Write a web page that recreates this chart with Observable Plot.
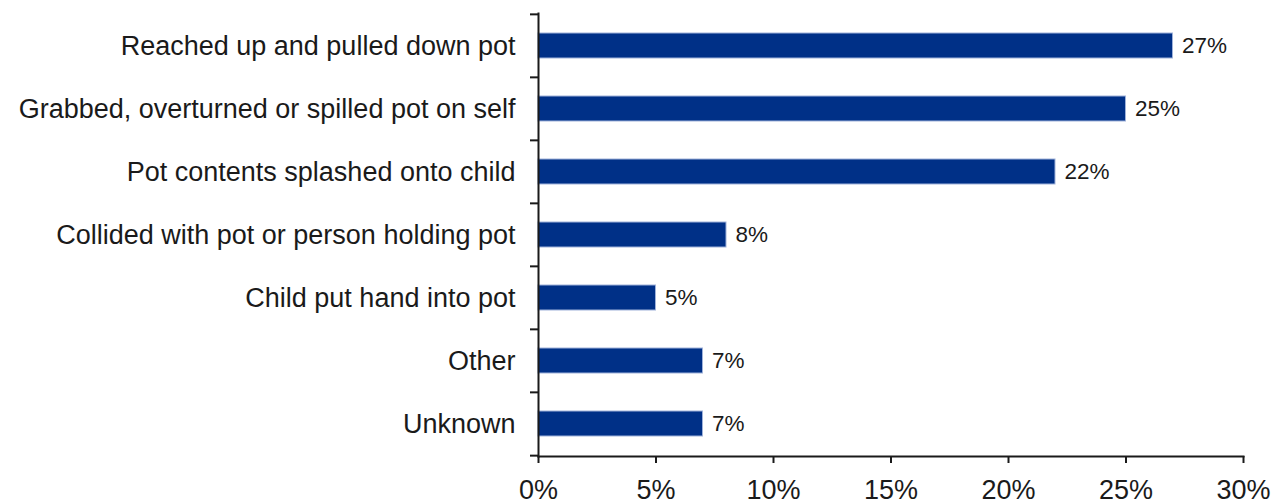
<!DOCTYPE html>
<html>
<head>
<meta charset="utf-8">
<script src="https://cdn.jsdelivr.net/npm/d3@7"></script>
<script src="https://cdn.jsdelivr.net/npm/@observablehq/plot@0.6"></script>
<style>
  html, body { margin: 0; padding: 0; background: #fff; }
</style>
</head>
<body>
<div id="chart"></div>
<script>
const categories = [
  "Reached up and pulled down pot",
  "Grabbed, overturned or spilled pot on self",
  "Pot contents splashed onto child",
  "Collided with pot or person holding pot",
  "Child put hand into pot",
  "Other",
  "Unknown"
];
const values = [27, 25, 22, 8, 5, 7, 7];
const xTicks = [0, 5, 10, 15, 20, 25, 30];

const data = categories.map((c, i) => ({category: c, value: values[i]}));

const W = 1281, H = 504;
const mTop = 13, mBottom = 48, mLeft = 538, mRight = 38;
const step = (H - mTop - mBottom) / categories.length;
const font = "'Liberation Sans', Arial, sans-serif";

const chart = Plot.plot({
  width: W,
  height: H,
  marginTop: mTop,
  marginBottom: mBottom,
  marginLeft: mLeft,
  marginRight: mRight,
  style: {fontFamily: font, color: "#1a1a1a", background: "#fff", overflow: "visible"},
  x: {domain: [0, 30], ticks: xTicks},
  y: {domain: categories, paddingInner: 0.6, paddingOuter: 0.3},
  marks: [
    Plot.barX(data, {
      x: "value", y: "category",
      fill: "#003087", stroke: "#9fb2da", strokeWidth: 1
    }),
    Plot.text(data, {
      x: "value", y: "category",
      text: d => d.value + "%",
      textAnchor: "start", dx: 9,
      fontSize: 22.5, fill: "#1a1a1a"
    }),
    // category labels
    Plot.axisY({
      tickSize: 0, tickPadding: 23, fontSize: 27,
      label: null, fill: "#1a1a1a",
      style: {letterSpacing: "0.72px"}
    }),
    // boundary ticks between bands
    Plot.axisY({
      tickSize: 8, text: null, label: null, dy: -step / 2,
      stroke: "#1a1a1a", strokeWidth: 2
    }),
    Plot.axisY({
      ticks: [categories[categories.length - 1]],
      tickSize: 8, text: null, label: null, dy: step / 2,
      stroke: "#1a1a1a", strokeWidth: 2
    }),
    Plot.axisX({
      ticks: xTicks, tickSize: 7, tickPadding: 16, fontSize: 27,
      tickFormat: d => d + "%", label: null,
      stroke: "#1a1a1a", strokeWidth: 2, fill: "#1a1a1a"
    }),
    Plot.frame({anchor: "bottom", stroke: "#1a1a1a", strokeWidth: 2}),
    Plot.frame({anchor: "left", stroke: "#1a1a1a", strokeWidth: 2})
  ]
});

document.getElementById("chart").appendChild(chart);
</script>
</body>
</html>
